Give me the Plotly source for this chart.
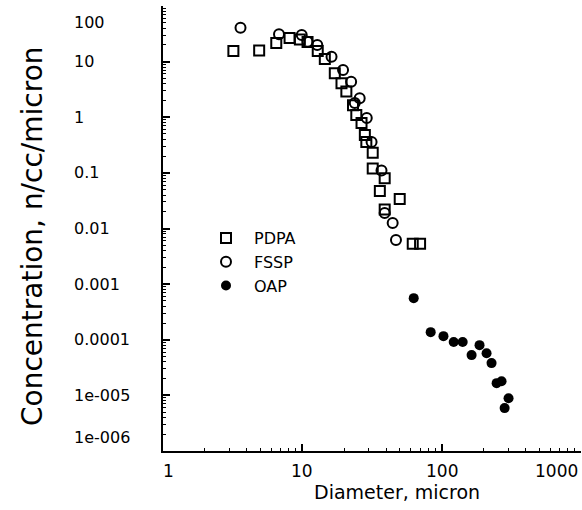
import numpy as np
import plotly.graph_objects as go

# ---- data ----
pdpa_d = [3.2, 4.9, 6.5, 8.1, 9.6, 10.9, 12.9, 14.5, 17.1, 19.1, 20.7, 23.1, 24.4, 26.6,
          28.1, 28.8, 32.0, 32.0, 36.0, 39.0, 39.0, 50.0, 62.0, 70.0]
pdpa_c = [15.5, 15.9, 21.6, 26.5, 25.0, 22.5, 15.5, 11.1, 6.2, 4.1, 2.9, 1.65, 1.1, 0.79,
          0.48, 0.36, 0.23, 0.12, 0.047, 0.08, 0.022, 0.034, 0.0053, 0.0053]

fssp_d = [3.6, 6.8, 9.9, 10.9, 12.8, 16.2, 19.6, 22.4, 23.8, 25.8, 29.0, 31.4, 37.0, 39.0, 44.5, 47.0]
fssp_c = [40.7, 31.0, 30.0, 22.7, 19.9, 12.2, 7.1, 4.35, 1.8, 2.2, 0.97, 0.36, 0.11, 0.019, 0.0125, 0.0062]

oap_d = [63, 83.4, 103, 122, 141.5, 164, 187, 210, 228, 248, 269, 283, 302]
oap_c = [5.6e-4, 1.37e-4, 1.16e-4, 9.1e-5, 9.1e-5, 5.3e-5, 8.0e-5, 5.7e-5, 3.8e-5,
         1.66e-5, 1.8e-5, 5.9e-6, 8.9e-6]

y_tickvals = [100, 10, 1, 0.1, 0.01, 0.001, 0.0001, 1e-5, 1e-6]
y_ticktext = ["100", "10", "1", "0.1", "0.01", "0.001", "0.0001", "1e-005", "1e-006"]
x_tickvals = [1, 10, 100, 1000]
x_ticktext = ["1", "10", "100", "1000"]

FONT = "DejaVu Sans"

fig = go.Figure()
fig.add_trace(go.Scatter(x=pdpa_d, y=pdpa_c, mode="markers", name="PDPA",
                         marker=dict(symbol="square-open", size=10, color="black",
                                     line=dict(width=2, color="black"))))
fig.add_trace(go.Scatter(x=fssp_d, y=fssp_c, mode="markers", name="FSSP",
                         marker=dict(symbol="circle-open", size=10, color="black",
                                     line=dict(width=2, color="black"))))
fig.add_trace(go.Scatter(x=oap_d, y=oap_c, mode="markers", name="OAP",
                         marker=dict(symbol="circle", size=10, color="black")))

annotations = []
# y tick labels (left aligned, as in the original)
for v, t in zip(y_tickvals, y_ticktext):
    ys = 0
    if v == 100:
        ys = -16
    elif v == 1e-6:
        ys = 14
    annotations.append(dict(x=(72 - 163) / 418, xref="paper", xanchor="left", y=np.log10(v), yref="y",
                            yanchor="middle", yshift=ys, text=t, showarrow=False,
                            font=dict(family=FONT, size=16, color="black")))
# x tick labels
for v, t in zip(x_tickvals, x_ticktext):
    xa, xs = "center", 0
    if v == 1:
        xs = 5
    elif v == 1000:
        xa, xs = "right", -1
    annotations.append(dict(x=np.log10(v), xref="x", xanchor=xa, xshift=xs, y=0, yref="paper",
                            yanchor="top", yshift=-8, text=t, showarrow=False,
                            font=dict(family=FONT, size=17, color="black")))
# axis titles
annotations.append(dict(x=(397 - 163) / 418, xref="paper", xanchor="center", y=0, yref="paper",
                        yanchor="middle", yshift=-41, text="Diameter, micron", showarrow=False,
                        font=dict(family=FONT, size=19, color="black")))
annotations.append(dict(x=(33 - 163) / 418, xref="paper", xanchor="center", y=(451 - 236) / 445,
                        yref="paper", yanchor="middle", text="Concentration, n/cc/micron",
                        textangle=-90, showarrow=False,
                        font=dict(family=FONT, size=28, color="black")))

axis_common = dict(type="log", showgrid=False, zeroline=False, showline=True, linecolor="black",
                   linewidth=2, ticks="inside", ticklen=7, tickwidth=2, tickcolor="black",
                   showticklabels=False, dtick=1,
                   minor=dict(ticks="inside", ticklen=3, tickwidth=1, tickcolor="black", showgrid=False))

fig.update_layout(
    width=582, height=510,
    margin=dict(l=163, r=1, t=6, b=59),
    paper_bgcolor="white", plot_bgcolor="white",
    xaxis=dict(range=[0, 3], **axis_common),
    yaxis=dict(range=[-6, 2], **axis_common),
    showlegend=True,
    legend=dict(x=(198 - 163) / 418, y=(451 - 221) / 445, xanchor="left", yanchor="top",
                font=dict(family=FONT, size=16, color="black"), bgcolor="rgba(0,0,0,0)",
                itemwidth=46, tracegroupgap=0),
    annotations=annotations,
)

fig.write_html("out.html", config={"displayModeBar": False},
               post_script="document.body.style.margin='0';")
